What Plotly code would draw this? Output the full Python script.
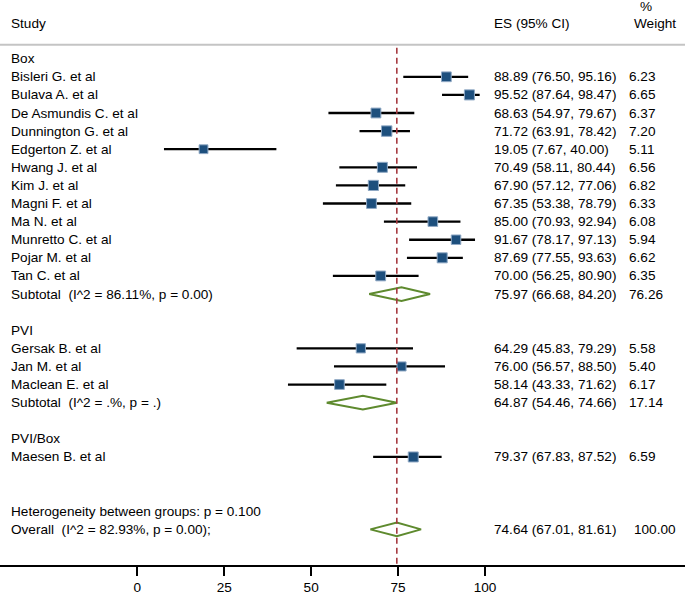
import plotly.graph_objects as go
import math

# ---------------- data ----------------
groups = ["Box", "PVI", "PVI/Box"]
group_studies = {
    "Box": ["Bisleri G. et al", "Bulava A. et al", "De Asmundis C. et al", "Dunnington G. et al",
            "Edgerton Z. et al", "Hwang J. et al", "Kim J. et al", "Magni F. et al", "Ma N. et al",
            "Munretto C. et al", "Pojar M. et al", "Tan C. et al"],
    "PVI": ["Gersak B. et al", "Jan M. et al", "Maclean E. et al"],
    "PVI/Box": ["Maesen B. et al"],
}
group_es = {
    "Box": [88.89, 95.52, 68.63, 71.72, 19.05, 70.49, 67.90, 67.35, 85.00, 91.67, 87.69, 70.00],
    "PVI": [64.29, 76.00, 58.14],
    "PVI/Box": [79.37],
}
group_lo = {
    "Box": [76.50, 87.64, 54.97, 63.91, 7.67, 58.11, 57.12, 53.38, 70.93, 78.17, 77.55, 56.25],
    "PVI": [45.83, 56.57, 43.33],
    "PVI/Box": [67.83],
}
group_hi = {
    "Box": [95.16, 98.47, 79.67, 78.42, 40.00, 80.44, 77.06, 78.79, 92.94, 97.13, 93.63, 80.90],
    "PVI": [79.29, 88.50, 71.62],
    "PVI/Box": [87.52],
}
group_w = {
    "Box": [6.23, 6.65, 6.37, 7.20, 5.11, 6.56, 6.82, 6.33, 6.08, 5.94, 6.62, 6.35],
    "PVI": [5.58, 5.40, 6.17],
    "PVI/Box": [6.59],
}
# subtotals: es, lo, hi, weight, I^2 text, p text
sub_es = {"Box": 75.97, "PVI": 64.87}
sub_lo = {"Box": 66.68, "PVI": 54.46}
sub_hi = {"Box": 84.20, "PVI": 74.66}
sub_w = {"Box": 76.26, "PVI": 17.14}
sub_i2 = {"Box": "86.11", "PVI": "."}
sub_p = {"Box": "0.00", "PVI": "."}

overall_es, overall_lo, overall_hi, overall_w = 74.64, 67.01, 81.61, 100.00
overall_i2, overall_p = "82.93", "0.00"
between_p = "0.100"

tick_vals = [0, 25, 50, 75, 100]

# ---------------- layout constants ----------------
W, H = 685, 595
ROW0_PX = 59.0
STEP = 18.2
AXIS_PX = 568.0
X0_PX, X100_PX = 137.3, 485.0
ppu = (X100_PX - X0_PX) / 100.0
xr = [-X0_PX / ppu, (W - X0_PX) / ppu]
yr = [(AXIS_PX - ROW0_PX) / STEP, -ROW0_PX / STEP]

def krow(px):
    return (px - ROW0_PX) / STEP

FONT = "Liberation Sans, Arial, sans-serif"
FS = 13.6
NAVY = "#1d4f7d"
GREEN = "#5e8a2e"
RED = "#a5393f"

fig = go.Figure()
ann = []

def text(xpx, y, s, anchor="left"):
    ann.append(dict(x=xpx / W, xref="paper", y=y, yref="y", text=s, showarrow=False,
                    xanchor=anchor, yanchor="middle", font=dict(family=FONT, size=FS, color="black")))

NAME_X, ES_X, W_X = 9, 492, 627

def diamond(k, es, lo, hi, h=0.38):
    fig.add_trace(go.Scatter(x=[lo, es, hi, es, lo], y=[k, k - h, k, k + h, k], mode="lines",
                             line=dict(color=GREEN, width=2), hoverinfo="skip", showlegend=False))

k = 0
for g in groups:
    text(NAME_X, k, g)
    k += 1
    names = group_studies[g]
    for i, n in enumerate(names):
        es, lo, hi, w = group_es[g][i], group_lo[g][i], group_hi[g][i], group_w[g][i]
        fig.add_trace(go.Scatter(x=[lo, hi], y=[k, k], mode="lines",
                                 line=dict(color="black", width=2.3), hoverinfo="skip", showlegend=False))
        fig.add_trace(go.Scatter(x=[es], y=[k], mode="markers",
                                 marker=dict(symbol="square", size=3.9 * math.sqrt(w), color=NAVY,
                                             line=dict(color="#8fa8c4", width=1)),
                                 hoverinfo="skip", showlegend=False))
        text(NAME_X, k, n)
        text(ES_X, k, f"{es:.2f} ({lo:.2f}, {hi:.2f})")
        text(W_X, k, f"{w:.2f}")
        k += 1
    if g in sub_es:
        text(NAME_X, k, f"Subtotal\u00a0 (I^2 = {sub_i2[g]}%, p = {sub_p[g]})")
        diamond(k, sub_es[g], sub_lo[g], sub_hi[g])
        text(ES_X, k, f"{sub_es[g]:.2f} ({sub_lo[g]:.2f}, {sub_hi[g]:.2f})")
        text(W_X, k, f"{sub_w[g]:.2f}")
    k += 2  # subtotal row + blank row

text(NAME_X, k, f"Heterogeneity between groups: p = {between_p}")
k += 1
text(NAME_X, k, f"Overall\u00a0 (I^2 = {overall_i2}%, p = {overall_p});")
diamond(k, overall_es, overall_lo, overall_hi)
text(ES_X, k, f"{overall_es:.2f} ({overall_lo:.2f}, {overall_hi:.2f})")
text(W_X + 5, k, f"{overall_w:.2f}")

# header
text(NAME_X, krow(24), "Study")
text(ES_X, krow(24), "ES (95% CI)")
text(W_X + 5, krow(24), "Weight")
text(W_X + 11, krow(7), "%")

shapes = [
    dict(type="line", xref="paper", x0=0, x1=1, yref="y", y0=krow(45), y1=krow(45),
         line=dict(color="#c4c4c4", width=2)),
    dict(type="line", xref="x", x0=overall_es, x1=overall_es, yref="y", y0=krow(48), y1=yr[0],
         line=dict(color=RED, width=1.6, dash="6px,4px")),
]

fig.update_layout(
    width=W, height=H,
    margin=dict(l=0, r=0, t=0, b=H - AXIS_PX),
    paper_bgcolor="white", plot_bgcolor="white",
    annotations=ann, shapes=shapes,
    font=dict(family=FONT, size=FS, color="black"),
    xaxis=dict(range=xr, tickvals=tick_vals, ticktext=[str(v) for v in tick_vals],
               ticks="outside", ticklen=9, tickwidth=1.5, tickcolor="black",
               showline=True, linecolor="black", linewidth=1.5,
               showgrid=False, zeroline=False, fixedrange=True,
               tickfont=dict(family=FONT, size=FS, color="black")),
    yaxis=dict(range=yr, visible=False, showgrid=False, zeroline=False, fixedrange=True),
)

fig.write_html("out.html", config={"displayModeBar": False},
               post_script="document.body.style.margin='0';")
